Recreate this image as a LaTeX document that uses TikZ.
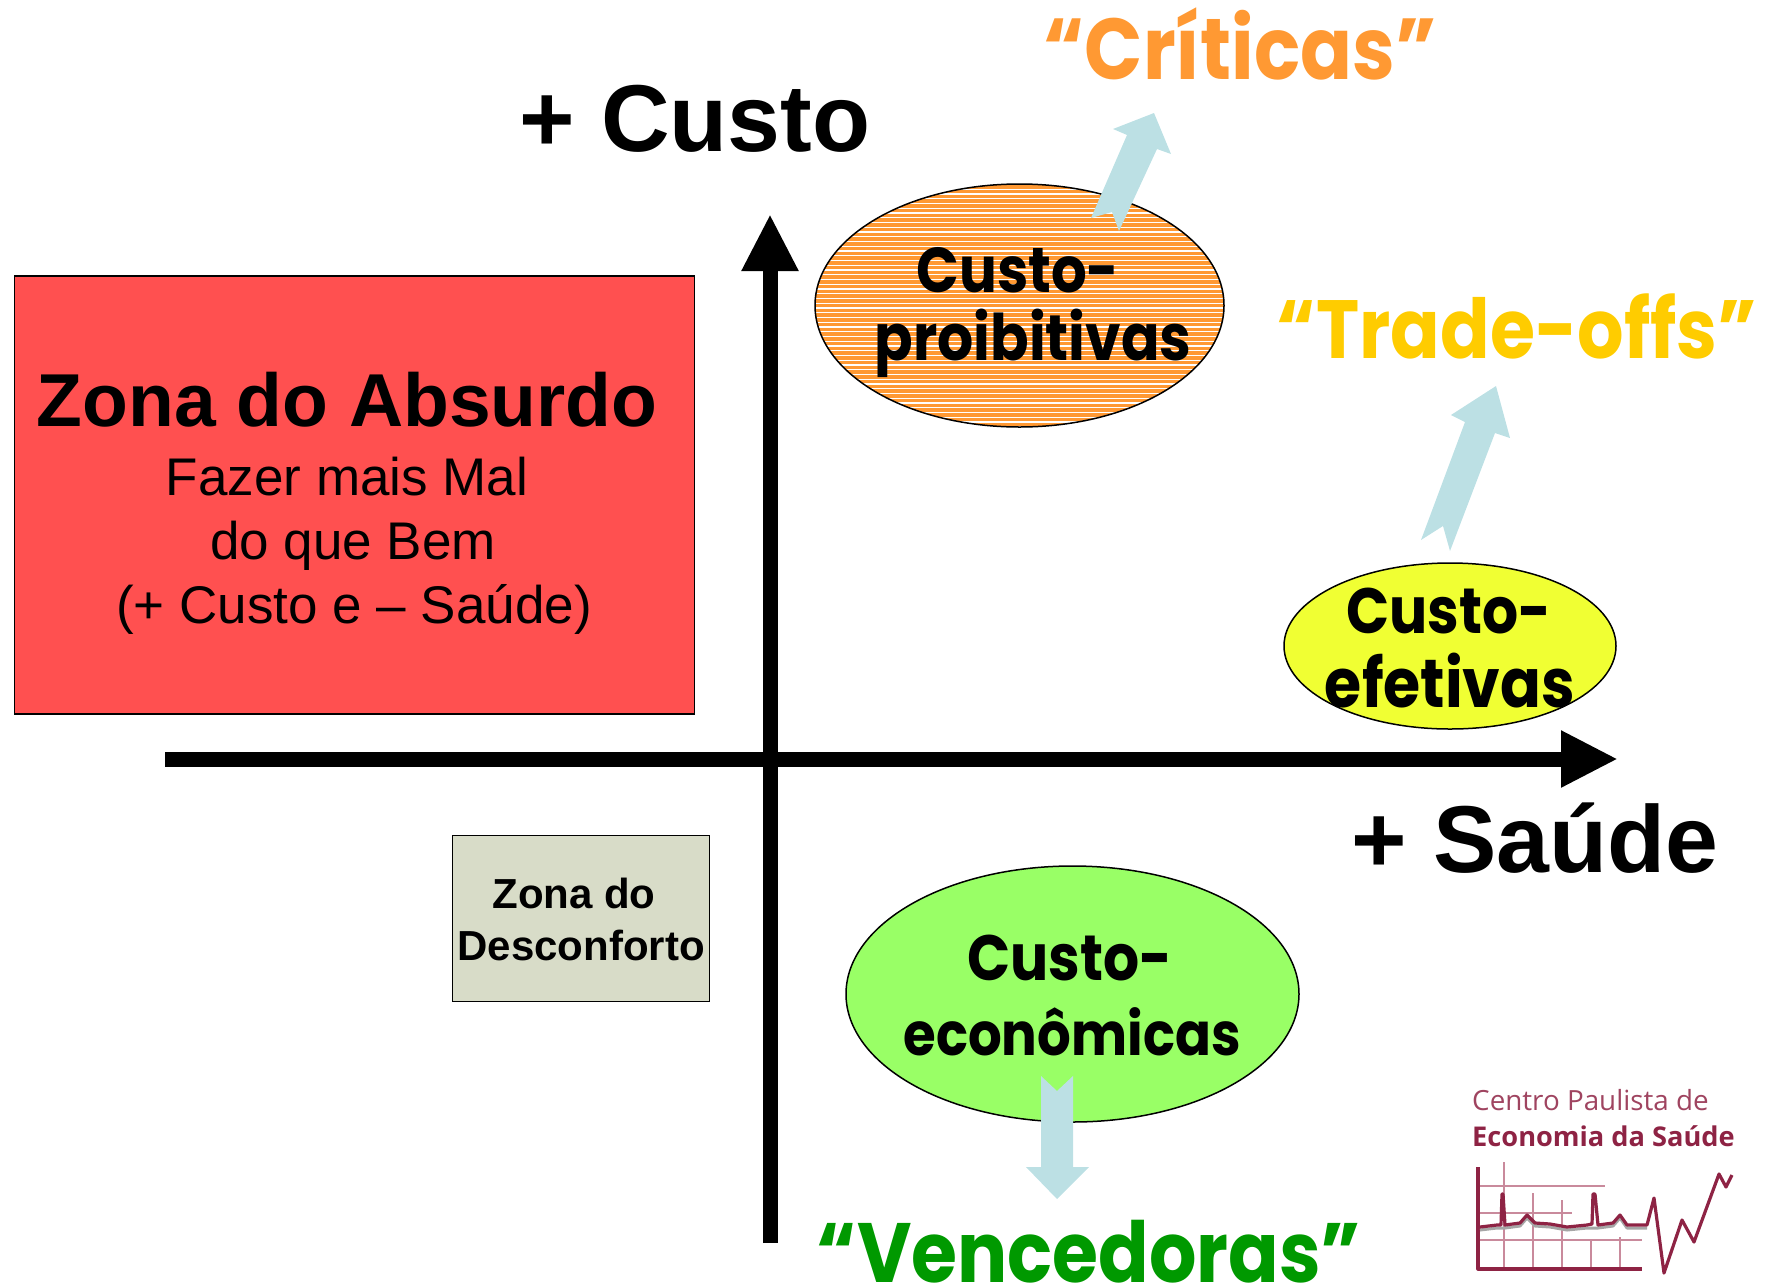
\documentclass[tikz,border=0pt]{standalone}
\usepackage{fontspec}
\usepackage{graphicx}
\setmainfont{Liberation Sans}
\newfontfamily\comic{Poppins}
\newfontfamily\logofont{Open Sans}
\usetikzlibrary{shapes.geometric,arrows.meta}
\definecolor{absurdo}{HTML}{FF5050}
\definecolor{desconf}{HTML}{D8DCC8}
\definecolor{laranja}{HTML}{FF9933}
\definecolor{amar}{HTML}{F0FF33}
\definecolor{verde}{HTML}{99FF66}
\definecolor{seta}{HTML}{BCE0E4}
\definecolor{tradeoff}{HTML}{FFCC00}
\definecolor{venc}{HTML}{009900}
\definecolor{vinho}{HTML}{8E2344}
\definecolor{vinhoc}{HTML}{C98A9C}
\newcommand{\cs}[2]{\scalebox{1}[1.13]{\resizebox{#1pt}{!}{\comic\bfseries #2}}}
\tikzset{
  axisline/.style={line width=15pt,-{Triangle[length=57pt,width=53pt]}},
  zonebox/.style={draw=black,line width=1.8pt,inner sep=0pt,anchor=north west},
  blob/.style={ellipse,draw=black,line width=1.5pt,inner sep=0pt},
  blockarrow/.style={fill=seta,draw=none},
  cslabel/.style={anchor=base,inner sep=0pt,text=black},
  bigarial/.style={anchor=base,inner sep=0pt,font=\fontsize{95}{95}\selectfont\bfseries},
  plain/.style={anchor=base,inner sep=0pt,font=\fontsize{53}{53}\selectfont},
  small/.style={anchor=base,inner sep=0pt,font=\fontsize{42}{42}\selectfont\bfseries},
  ecg/.style={draw=vinho,line width=3.2pt,line join=round},
  ecgshadow/.style={draw=gray!70,line width=3pt,line join=round},
  gridline/.style={draw=vinhoc,line width=1.4pt},
}
\begin{document}
\begin{tikzpicture}[x=1pt,y=-1pt]
\useasboundingbox (0,0) rectangle (1772,1286);
% zones
\node[zonebox,fill=absurdo,minimum width=680pt,minimum height=438pt] (absurdo) at (13.5,275) {};
\node[zonebox,fill=desconf,minimum width=257pt,minimum height=166pt] (desconf) at (451.5,834.5) {};
% ellipses
\node[blob,fill=laranja,minimum width=409pt,minimum height=243pt,
  path picture={\foreach \yy in {-121,-116.25,...,125}{\draw[white,line width=1.2pt] (-220,\yy)--(220,\yy);}}] (proib) at (1019.5,305.5) {};
\node[blob,fill=amar,minimum width=332pt,minimum height=166pt] (efet) at (1450,646) {};
\node[blob,fill=verde,minimum width=453pt,minimum height=256pt] (econ) at (1072.5,994) {};
% axes
\coordinate (yb) at (770,1243);
\coordinate (yt) at (770,214);
\coordinate (xl) at (165,759);
\coordinate (xr) at (1618,759);
\draw[axisline] (yb)--(yt);
\draw[axisline] (xl)--(xr);
% block arrows
\fill[blockarrow] (1154,113)--(1171,154)--(1157,149)--(1119,231)--(1112,212)--(1091,218)--(1127,135)--(1113,129)--cycle;
\fill[blockarrow] (1496,386)--(1510,438)--(1495,433)--(1450,551)--(1443,526)--(1421,540)--(1465,422)--(1451,415)--cycle;
\fill[blockarrow] (1041,1076)--(1057,1091)--(1073,1076)--(1073,1167)--(1089,1167)--(1057,1199)--(1026,1167)--(1041,1167)--cycle;
% axis labels
\node[bigarial] (lcusto) at (695,151) {+ Custo};
\node[bigarial] (lsaude) at (1535,872) {+ Saúde};
% zone text
\node[anchor=base,inner sep=0pt,font=\fontsize{75}{75}\selectfont\bfseries] (t1) at (347,426) {Zona do Absurdo};
\node[plain] (t2) at (347,495) {Fazer mais Mal};
\node[plain] (t3) at (353,559) {do que Bem};
\node[plain] (t4) at (354,623) {(+ Custo e – Saúde)};
\node[small] (t5) at (574,908) {Zona do};
\node[small] (t6) at (581,960) {Desconforto};
% comic labels
\node[cslabel] (p1) at (1018,292) {\cs{203}{Custo-}};
\node[cslabel] (p2) at (1033,360) {\cs{317}{proibitivas}};
\node[cslabel] (e1) at (1449,633) {\cs{205}{Custo-}};
\node[cslabel] (e2) at (1450,707) {\cs{250}{efetivas}};
\node[cslabel] (c1) at (1070,980) {\cs{205}{Custo-}};
\node[cslabel] (c2) at (1072,1055) {\cs{337}{econômicas}};
\node[cslabel,text=laranja] (q1) at (1240,79) {\cs{393}{“Críticas”}};
\node[cslabel,text=tradeoff] (q2) at (1517,358) {\cs{480}{“Trade-offs”}};
\node[cslabel,text=venc] (q3) at (1089,1282) {\cs{544}{“Vencedoras”}};
% logo
\node[anchor=base west,inner sep=0pt,text=vinho!85,font=\logofont\fontsize{27.8}{27.8}\selectfont] (lg1) at (1472,1110) {Centro Paulista de};
\node[anchor=base west,inner sep=0pt,text=vinho,font=\logofont\bfseries\fontsize{27.2}{27.2}\selectfont] (lg2) at (1472,1146) {Economia da Saúde};
\draw[gridline] (1478,1186)--(1605,1186) (1478,1213)--(1572,1213) (1478,1240)--(1642,1240)
  (1504,1162)--(1504,1269) (1533,1193)--(1533,1269) (1562,1200)--(1562,1269) (1591,1240)--(1591,1269) (1620,1237)--(1620,1269);
\draw[ecg] (1478,1167)--(1478,1269)--(1642,1269);
\draw[ecgshadow] (1480,1230)--(1497,1228)--(1505,1228)--(1520,1226)--(1527,1218)--(1535,1226)--(1550,1227)--(1567,1230)--(1587,1228)--(1598,1228)--(1613,1226)--(1620,1218)--(1627,1228)--(1647,1228);
\draw[ecg] (1480,1227)--(1497,1225)--(1501,1225)--(1502,1194)--(1503,1194)--(1505,1225)--(1520,1223)--(1527,1215)--(1535,1223)--(1550,1224)--(1567,1227)--(1587,1225)--(1592,1224)--(1593,1194)--(1595,1194)--(1598,1225)--(1613,1223)--(1620,1215)--(1627,1225)--(1647,1225)--(1654,1198)--(1664,1273)--(1682,1220)--(1694,1242)--(1719,1174)--(1726,1187)--(1732,1175);
\end{tikzpicture}
\end{document}
